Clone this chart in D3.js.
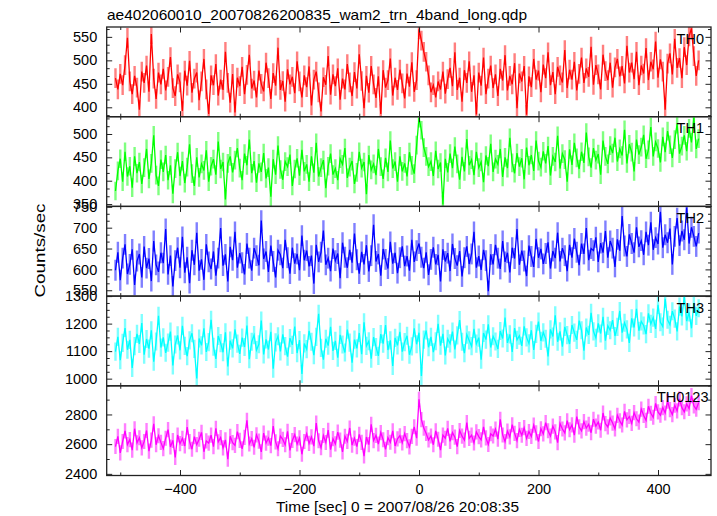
<!DOCTYPE html>
<html><head><meta charset="utf-8">
<script src="https://cdn.jsdelivr.net/npm/d3@7"></script>
<style>
body{margin:0;background:#fff}
svg{display:block}
text{font-family:"Liberation Sans",Arial,Helvetica,sans-serif;fill:#000}
</style>
</head><body>
<svg id="chart" width="717" height="516"></svg>
<script>
const title = "ae402060010_20070826200835_wam2_trn_4band_long.qdp";
const xLabel = "Time [sec] 0 = 2007/08/26 20:08:35";
const yLabel = "Counts/sec";
const seriesNames = ["TH0", "TH1", "TH2", "TH3", "TH0123"];
const seriesColors = ["#ff0000", "#00ff00", "#0000ff", "#00ffff", "#ff00ff"];
// bin centre times (sec), 4-s bins
const binTimes = d3.range(-508, 469, 4);
const th0 = [
462,438,471,447,490,548,455,428,467,442,
395,476,452,489,433,556,461,418,474,449,
482,436,465,507,441,424,470,453,392,478,
446,499,431,461,474,415,455,503,438,386,
468,447,492,425,459,437,518,452,410,471,
389,463,445,486,428,469,512,440,457,421,
478,450,434,495,462,418,473,446,527,437,
456,412,481,449,465,430,498,455,421,468,
443,487,404,459,476,432,391,464,448,509,
427,470,445,483,416,461,438,492,453,424,
475,440,513,456,398,467,431,488,449,420,
466,386,479,442,458,504,425,463,437,480,
451,419,472,444,496,433,458,566,542,518,
497,468,432,447,421,455,438,476,429,460,
484,445,517,437,463,412,479,452,498,433,
468,385,474,446,506,428,461,489,441,470,
424,482,457,511,436,467,449,494,398,472,
455,488,384,466,443,503,459,478,432,491,
462,517,447,475,428,486,468,453,522,441,
480,459,497,436,471,506,452,483,465,529,
448,490,470,438,512,477,458,495,442,485,
503,466,488,451,531,474,495,460,518,447,
489,472,526,458,497,481,540,463,502,476,
395,493,515,470,546,484,505,462,528,490,
551,568,509,467,500];
const th1 = [
378,421,447,398,462,409,431,385,452,416,
440,393,428,468,404,437,497,412,389,445,
419,455,401,433,372,426,461,410,442,395,
429,478,415,389,450,407,436,422,465,398,
431,446,413,484,425,440,360,437,452,418,
444,470,427,401,458,433,488,416,442,396,
437,419,459,405,428,366,446,413,475,424,
402,441,430,456,389,425,448,411,466,420,
435,398,452,417,481,409,428,444,384,431,
458,413,426,401,447,435,470,406,429,442,
393,418,462,427,440,371,455,423,436,412,
468,430,404,449,419,486,426,441,398,452,
420,437,409,461,433,415,476,534,508,471,
452,430,441,410,464,425,439,349,447,418,
458,427,473,436,402,451,420,489,433,445,
412,462,428,440,397,454,431,479,419,446,
435,468,408,450,427,492,438,416,459,430,
448,403,471,433,455,421,486,442,429,463,
437,474,411,452,440,496,426,458,445,398,
467,434,481,449,425,462,438,503,451,428,
470,444,457,413,486,452,436,475,459,492,
441,468,454,509,437,478,461,420,488,456,
472,498,447,466,515,452,483,469,439,494,
461,506,477,449,488,521,458,474,497,463,
512,482,535,468,490];
const th2 = [
598,641,574,627,660,589,612,648,563,620,
637,581,655,603,626,572,668,611,594,640,
615,697,588,633,559,621,652,604,678,592,
629,567,646,611,688,597,624,575,660,618,
601,643,585,627,699,609,636,571,654,622,
690,604,639,616,588,662,627,597,651,633,
610,717,625,643,594,657,619,581,646,635,
603,671,628,590,652,614,637,598,681,622,
645,607,633,566,659,618,641,693,611,627,
596,650,621,638,579,664,629,604,647,616,
686,623,590,642,612,658,595,633,707,619,
637,585,649,624,602,666,614,640,591,628,
655,608,632,597,671,618,645,662,629,603,
641,587,624,653,612,635,571,648,619,639,
596,661,626,609,644,583,628,655,613,637,
690,604,632,599,647,621,548,636,612,659,
627,601,668,618,640,593,652,626,697,611,
645,620,584,657,631,606,673,628,649,613,
638,665,602,644,627,688,619,651,633,596,
659,628,674,641,610,662,637,699,622,650,
645,677,618,663,640,692,628,668,651,606,
672,645,728,656,631,684,662,640,701,654,
669,635,690,658,713,647,676,661,738,652,
683,664,698,612,679,723,657,692,671,748,
662,701,679,655,687];
const th3 = [
1098,1152,1067,1130,1184,1105,1141,1039,1118,1163,
1126,1202,1087,1144,1109,1176,1062,1135,1228,1113,
1150,1094,1131,1171,1048,1124,1157,1103,1192,1119,
1082,1139,1165,1108,1001,1146,1121,1183,1097,1133,
1214,1116,1072,1155,1129,1096,1168,1044,1138,1110,
1179,1127,1090,1149,1115,1193,1071,1134,1158,1104,
1125,1211,1088,1143,1106,1170,1036,1132,1154,1099,
1161,1118,1080,1147,1123,1189,1093,1140,1017,1128,
1107,1174,1134,1085,1152,1236,1112,1069,1145,1120,
1188,1101,1137,1076,1159,1124,1095,1178,1131,1058,
1142,1110,1166,1089,1205,1119,1136,1073,1151,1115,
1083,1162,1127,1195,1104,1139,1046,1148,1121,1170,
1098,1133,1156,1087,1117,1183,1125,1167,1010,1142,
1175,1114,1152,1096,1136,1199,1120,1163,1084,1145,
1128,1171,1106,1157,1213,1134,1093,1160,1139,1118,
1181,1127,1149,1069,1166,1142,1197,1113,1154,1135,
1108,1173,1146,1222,1130,1161,1097,1184,1141,1156,
1119,1190,1150,1128,1176,1104,1163,1207,1137,1168,
1145,1081,1179,1153,1230,1134,1172,1116,1188,1158,
1126,1195,1167,1141,1211,1176,1102,1186,1159,1239,
1172,1148,1201,1164,1225,1138,1192,1176,1213,1155,
1188,1246,1167,1203,1179,1130,1219,1186,1254,1174,
1208,1193,1162,1237,1199,1222,1181,1268,1205,1189,
1290,1214,1196,1245,1218,1172,1262,1226,1298,1209,
1241,1183,1275,1228,1256];
const th0123 = [
2584,2652,2541,2618,2689,2597,2631,2560,2704,2609,
2643,2575,2618,2692,2553,2627,2737,2596,2657,2612,
2570,2640,2698,2581,2625,2510,2662,2604,2639,2588,
2715,2617,2566,2651,2597,2633,2679,2549,2622,2607,
2661,2583,2706,2615,2644,2575,2629,2499,2653,2610,
2592,2684,2626,2568,2646,2760,2601,2637,2579,2663,
2620,2548,2675,2607,2641,2590,2722,2615,2569,2654,
2632,2596,2687,2558,2625,2664,2601,2642,2532,2618,
2670,2605,2649,2587,2742,2623,2576,2658,2611,2694,
2563,2637,2602,2681,2627,2548,2653,2619,2709,2594,
2641,2583,2666,2612,2520,2648,2597,2733,2624,2659,
2601,2678,2630,2565,2644,2613,2690,2588,2636,2657,
2609,2671,2624,2582,2652,2717,2640,2902,2765,2708,
2672,2628,2655,2596,2689,2633,2560,2661,2640,2706,
2619,2678,2647,2583,2692,2654,2627,2745,2639,2661,
2608,2683,2651,2629,2716,2642,2598,2670,2655,2701,
2634,2767,2662,2617,2688,2649,2731,2673,2624,2699,
2660,2711,2639,2685,2652,2728,2676,2618,2704,2669,
2745,2690,2655,2721,2683,2610,2739,2702,2676,2758,
2697,2730,2661,2785,2716,2689,2752,2708,2734,2677,
2768,2721,2749,2694,2810,2738,2716,2776,2742,2703,
2794,2757,2729,2821,2764,2786,2740,2812,2771,2748,
2836,2793,2760,2855,2808,2781,2874,2817,2795,2846,
2810,2889,2833,2799,2862,2824,2905,2846,2818,2871,
2840,2927,2858,2835,2880];
const seriesValues = [th0, th1, th2, th3, th0123];
const seriesErrors = [21, 20, 25, 33, 51];
const yDomains = [[380, 571], [345, 537], [536, 751], [974, 1300], [2389, 2993]];
const yMajorTicks = [[400, 450, 500, 550], [350, 400, 450, 500], [550, 600, 650, 700, 750], [1000, 1100, 1200, 1300], [2400, 2600, 2800]];
const yMinorTicks = [
  [383.33, 416.67, 433.33, 466.67, 483.33, 516.67, 533.33, 566.67],
  [366.67, 383.33, 416.67, 433.33, 466.67, 483.33, 516.67, 533.33],
  [566.67, 583.33, 616.67, 633.33, 666.67, 683.33, 716.67, 733.33],
  [975, 1025, 1050, 1075, 1125, 1150, 1175, 1225, 1250, 1275],
  [2500, 2700, 2900]];
const xDomain = [-522.7, 488.7];
const xMajorTicks = [-400, -200, 0, 200, 400];
const xMinorTicks = [-500, -300, -100, 100, 300];

const svg = d3.select("#chart");
const left = 106.7, right = 711, top0 = 27, panelH = 89.7;
const x = d3.scaleLinear().domain(xDomain).range([left, right]);
const FS = 14.5;
const frameColor = "#222";

svg.append("text").attr("x", 107).attr("y", 19.5).attr("font-size", FS)
  .attr("textLength", 420).attr("lengthAdjust", "spacingAndGlyphs").text(title);

seriesNames.forEach((name, k) => {
  const pTop = top0 + k * panelH, pBot = pTop + panelH;
  const y = d3.scaleLinear().domain(yDomains[k]).range([pBot, pTop]);
  const g = svg.append("g");
  const clipId = "clip" + k;
  svg.append("clipPath").attr("id", clipId).append("rect")
    .attr("x", left).attr("y", pTop).attr("width", right - left).attr("height", panelH);
  const data = binTimes.map((t, i) => ({t, v: seriesValues[k][i], e: seriesErrors[k]}));
  const plot = g.append("g").attr("clip-path", `url(#${clipId})`);
  plot.append("g").selectAll("line").data(data).join("line")
    .attr("x1", d => x(d.t)).attr("x2", d => x(d.t))
    .attr("y1", d => y(d.v - d.e)).attr("y2", d => y(d.v + d.e))
    .attr("stroke", seriesColors[k]).attr("stroke-opacity", 0.5).attr("stroke-width", 2.4);
  plot.append("path").datum(data)
    .attr("d", d3.line().x(d => x(d.t)).y(d => y(d.v)))
    .attr("fill", "none").attr("stroke", seriesColors[k]).attr("stroke-width", 1.3);

  // axes
  const styleAxis = sel => { sel.select(".domain").remove(); sel.selectAll("line").attr("stroke", frameColor).attr("stroke-width", 1); };
  g.append("g").attr("transform", `translate(${left},0)`)
    .call(d3.axisLeft(y).tickValues(yMajorTicks[k]).tickSize(-5.5).tickPadding(9.5).tickFormat(d3.format("d")))
    .call(styleAxis)
    .call(s => s.selectAll("text").attr("font-size", FS).attr("font-family", "Liberation Sans, Arial, sans-serif").attr("fill", "#000"));
  g.append("g").attr("transform", `translate(${left},0)`)
    .call(d3.axisLeft(y).tickValues(yMinorTicks[k]).tickSize(-3).tickFormat(""))
    .call(styleAxis);
  g.append("g").attr("transform", `translate(${right},0)`)
    .call(d3.axisRight(y).tickValues(yMajorTicks[k]).tickSize(-5.5).tickFormat(""))
    .call(styleAxis);
  g.append("g").attr("transform", `translate(${right},0)`)
    .call(d3.axisRight(y).tickValues(yMinorTicks[k]).tickSize(-3).tickFormat(""))
    .call(styleAxis);
  g.append("g").attr("transform", `translate(0,${pTop})`)
    .call(d3.axisTop(x).tickValues(xMajorTicks).tickSize(-5.5).tickFormat(""))
    .call(styleAxis);
  g.append("g").attr("transform", `translate(0,${pTop})`)
    .call(d3.axisTop(x).tickValues(xMinorTicks).tickSize(-3).tickFormat(""))
    .call(styleAxis);
  g.append("g").attr("transform", `translate(0,${pBot})`)
    .call(d3.axisBottom(x).tickValues(xMajorTicks).tickSize(-5.5).tickPadding(8)
      .tickFormat(k === seriesNames.length - 1 ? d3.format("d") : ""))
    .call(styleAxis)
    .call(s => s.selectAll("text").attr("font-size", FS).attr("font-family", "Liberation Sans, Arial, sans-serif").attr("fill", "#000"));
  g.append("g").attr("transform", `translate(0,${pBot})`)
    .call(d3.axisBottom(x).tickValues(xMinorTicks).tickSize(-3).tickFormat(""))
    .call(styleAxis);

  g.append("rect").attr("x", left).attr("y", pTop).attr("width", right - left).attr("height", panelH)
    .attr("fill", "none").attr("stroke", frameColor).attr("stroke-width", 1.3);

  const lbl = g.append("text").attr("x", 704).attr("y", pTop + 16.5).attr("text-anchor", "end")
    .attr("font-size", FS).text(name);
  if (name === "TH0123") lbl.attr("x", 708.5);
});

svg.append("text").attr("x", 397.5).attr("y", 511.5).attr("text-anchor", "middle")
  .attr("font-size", FS).attr("textLength", 243).attr("lengthAdjust", "spacingAndGlyphs").text(xLabel);
svg.append("text").attr("transform", "translate(45,250.5) rotate(-90)").attr("text-anchor", "middle")
  .attr("font-size", FS).attr("textLength", 94).attr("lengthAdjust", "spacingAndGlyphs").text(yLabel);
</script>
</body></html>
